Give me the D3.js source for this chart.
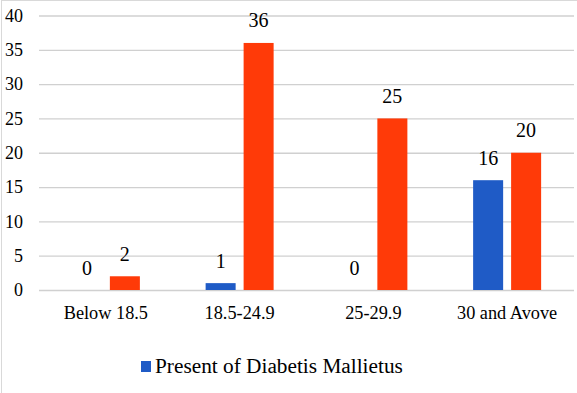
<!DOCTYPE html>
<html>
<head>
<meta charset="utf-8">
<script src="https://cdn.jsdelivr.net/npm/d3@7"></script>
<style>
  html, body { margin: 0; padding: 0; background: #fff; }
  svg text { font-family: "Liberation Serif", "Times New Roman", Times, serif; }
</style>
</head>
<body>
<div id="chart"></div>
<script>
// --- data ---
const categories = ["Below 18.5", "18.5-24.9", "25-29.9", "30 and Avove"];
const seriesNames = ["Present of Diabetis Mallietus", "Absent of Diabetis Mallietus"];
const presentValues = [0, 1, 0, 16];
const absentValues = [2, 36, 25, 20];
const yTicks = [0, 5, 10, 15, 20, 25, 30, 35, 40];
const colors = ["#1F5BC6", "#FF3A08"];

const width = 577, height = 393;
const margin = { top: 15.5, right: 3, bottom: 103, left: 39 };

const svg = d3.select("#chart").append("svg")
    .attr("width", width)
    .attr("height", height);

// outer chart frame (only left and top edges are visible)
svg.append("rect")
    .attr("x", 1.5).attr("y", 0.5)
    .attr("width", width + 10).attr("height", height + 10)
    .attr("fill", "none")
    .attr("stroke", "#d9d9d9");

const x0 = d3.scaleBand()
    .domain(categories)
    .range([margin.left, width - margin.right])
    .paddingInner(0).paddingOuter(0);

const groupW = 68;
const x1 = d3.scaleBand()
    .domain(seriesNames)
    .range([(x0.bandwidth() - groupW) / 2, (x0.bandwidth() + groupW) / 2])
    .paddingInner(0.21);

const y = d3.scaleLinear()
    .domain([0, 40])
    .range([height - margin.bottom, margin.top]);

// gridlines + y labels
const yAxis = svg.append("g")
    .attr("transform", `translate(${margin.left},0)`)
    .call(d3.axisLeft(y).tickValues(yTicks).tickSize(-(width - margin.left - margin.right)).tickPadding(16));
yAxis.attr("font-family", null);
yAxis.select(".domain").remove();
yAxis.selectAll(".tick line").attr("stroke", "#d0d0d0").attr("stroke-width", 1.3);
yAxis.selectAll(".tick text")
    .attr("font-size", 18)
    .attr("fill", "#000");

// category labels
svg.append("g").selectAll("text")
    .data(categories)
    .join("text")
    .attr("x", d => x0(d) + x0.bandwidth() / 2)
    .attr("y", 319)
    .attr("text-anchor", "middle")
    .attr("font-size", 18.3)
    .attr("fill", "#000")
    .text(d => d);

const rows = categories.map((c, i) => ({
    cat: c,
    vals: [
        { name: seriesNames[0], v: presentValues[i], color: colors[0] },
        { name: seriesNames[1], v: absentValues[i], color: colors[1] }
    ]
}));

const groups = svg.append("g").selectAll("g")
    .data(rows)
    .join("g")
    .attr("transform", d => `translate(${x0(d.cat)},0)`);

groups.selectAll("rect")
    .data(d => d.vals)
    .join("rect")
    .attr("x", d => x1(d.name))
    .attr("y", d => y(d.v))
    .attr("width", x1.bandwidth())
    .attr("height", d => y(0) - y(d.v))
    .attr("fill", d => d.color);

groups.selectAll("text")
    .data(d => d.vals)
    .join("text")
    .attr("x", d => x1(d.name) + x1.bandwidth() / 2)
    .attr("y", d => y(d.v) - 15.5)
    .attr("text-anchor", "middle")
    .attr("font-size", 20)
    .attr("fill", "#000")
    .text(d => d.v);

// legend (only the first entry is visible)
const legend = svg.append("g").attr("transform", "translate(141,361)");
legend.append("rect")
    .attr("width", 10).attr("height", 11)
    .attr("fill", colors[0]);
legend.append("text")
    .attr("x", 14).attr("y", 11.5)
    .attr("font-size", 21.3)
    .attr("fill", "#000")
    .text(seriesNames[0]);
</script>
</body>
</html>
